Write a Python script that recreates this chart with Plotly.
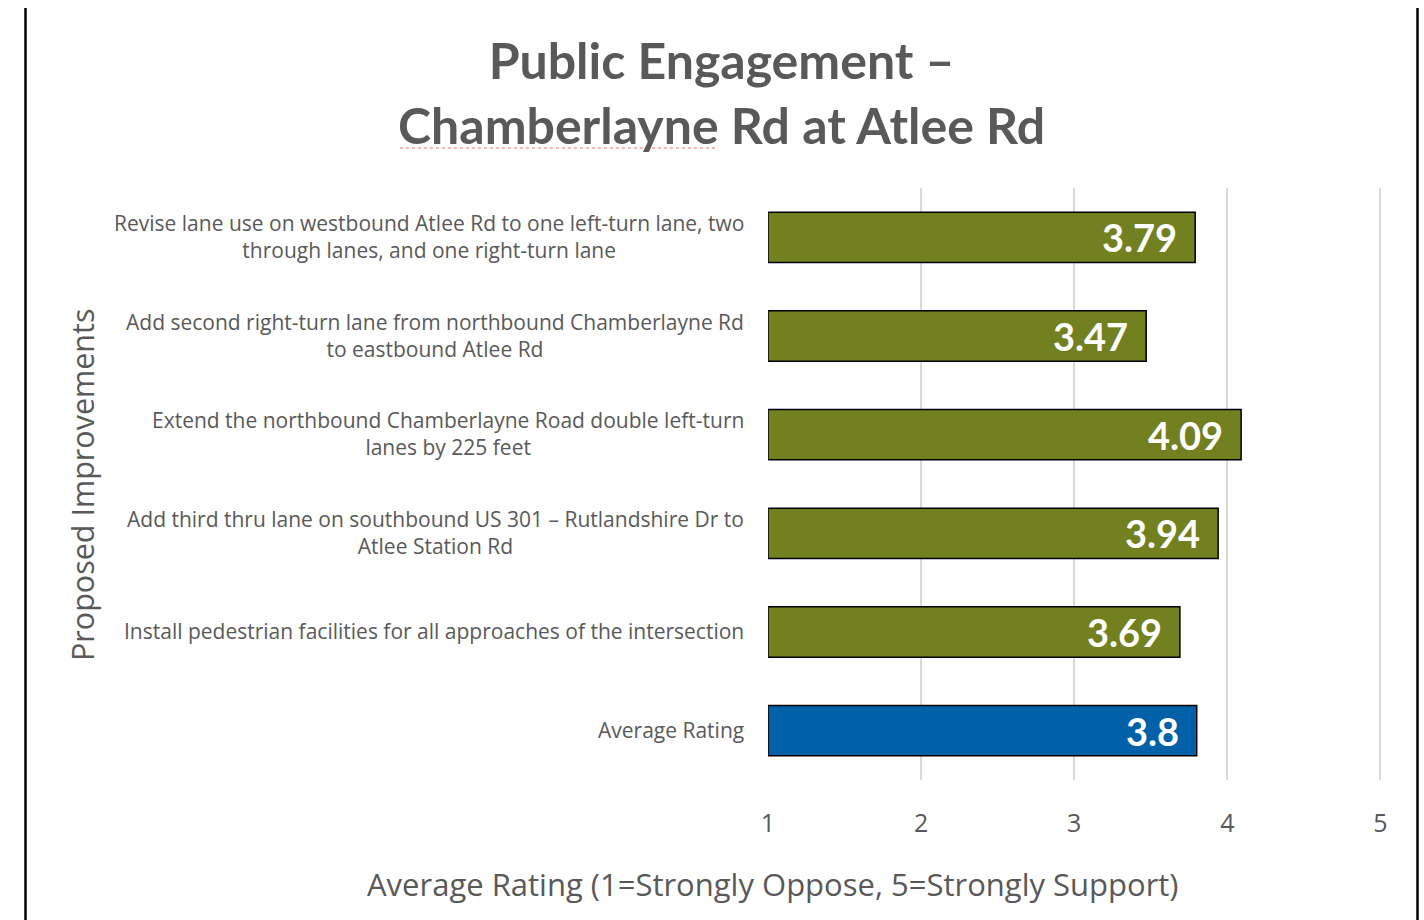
import plotly.graph_objects as go

categories = [
    "Revise lane use on westbound Atlee Rd to one left-turn lane, two<br>through lanes, and one right-turn lane",
    "Add second right-turn lane from northbound Chamberlayne Rd<br>to eastbound Atlee Rd",
    "Extend the northbound Chamberlayne Road double left-turn<br>lanes by 225 feet",
    "Add third thru lane on southbound US 301 \u2013 Rutlandshire Dr to<br>Atlee Station Rd",
    "Install pedestrian facilities for all approaches of the intersection",
    "Average Rating",
]
values = [3.79, 3.47, 4.09, 3.94, 3.69, 3.8]
value_labels = ["3.79", "3.47", "4.09", "3.94", "3.69", "3.8"]
bar_colors = ["#738020", "#738020", "#738020", "#738020", "#738020", "#0060A8"]
x_ticks = [1, 2, 3, 4, 5]

TFONT = "Lato"
FONT = "Open Sans"
GRAY = "#595959"

W, H = 1424, 920
L, R, T, B = 768, 42, 188, 140
pw, ph = W - L - R, H - T - B


def px(xp):
    return (xp - L) / pw


def py(yp):
    return (H - B - yp) / ph


fig = go.Figure()
fig.add_trace(go.Bar(
    x=[v - 1 for v in values],
    base=1,
    y=categories,
    orientation="h",
    marker=dict(color=bar_colors, line=dict(color="black", width=1.5)),
    width=0.51,
    hoverinfo="skip",
))

annotations = []
for c, v, t in zip(categories, values, value_labels):
    annotations.append(dict(
        x=v, y=c, xref="x", yref="y", text=t, showarrow=False,
        xanchor="right", xshift=-16, yshift=0,
        font=dict(family=TFONT, size=38, color="white", weight="bold"),
    ))
    annotations.append(dict(
        x=0, y=c, xref="paper", yref="y", text=c, showarrow=False,
        xanchor="right", xshift=-22, yshift=1, align="center",
        font=dict(family=FONT, size=21, color=GRAY),
    ))

annotations.append(dict(
    x=px(721), y=py(93), xref="paper", yref="paper",
    text="<b>Public Engagement \u2013<br>Chamberlayne Rd at Atlee Rd</b>",
    showarrow=False, xanchor="center", yanchor="middle", align="center",
    font=dict(family=TFONT, size=50, color=GRAY),
))
annotations.append(dict(
    x=px(773), y=py(884), xref="paper", yref="paper",
    text="Average Rating (1=Strongly Oppose, 5=Strongly Support)",
    showarrow=False, xanchor="center", yanchor="middle",
    font=dict(family=FONT, size=31, color=GRAY),
))
annotations.append(dict(
    x=px(82), y=py(485), xref="paper", yref="paper",
    text="Proposed Improvements", textangle=-90,
    showarrow=False, xanchor="center", yanchor="middle",
    font=dict(family=FONT, size=30.5, color=GRAY),
))

shapes = [
    dict(type="line", xref="paper", yref="paper", x0=px(25.5), x1=px(25.5),
         y0=py(8), y1=py(925), line=dict(color="black", width=2.5)),
    dict(type="line", xref="paper", yref="paper", x0=px(1417.5), x1=px(1417.5),
         y0=py(8), y1=py(925), line=dict(color="black", width=2.5)),
    dict(type="line", xref="paper", yref="paper", x0=px(400), x1=px(718),
         y0=py(148), y1=py(148), line=dict(color="#e87070", width=1, dash="dot")),
]

fig.update_layout(
    width=W, height=H,
    margin=dict(l=L, r=R, t=T, b=B, autoexpand=False),
    paper_bgcolor="white", plot_bgcolor="white",
    showlegend=False,
    annotations=annotations,
    shapes=shapes,
    xaxis=dict(range=[1, 5.01], tickvals=x_ticks, showgrid=True, gridcolor="#d9d9d9",
               gridwidth=1.5, zeroline=False, showline=False, ticks="",
               tickfont=dict(family=FONT, size=25, color=GRAY),
               ticklabelstandoff=26, fixedrange=True),
    yaxis=dict(categoryorder="array", categoryarray=categories, autorange="reversed",
               showticklabels=False, showgrid=False, zeroline=False, showline=False,
               ticks="", fixedrange=True),
)

fig.write_html("out.html", config={"displayModeBar": False},
               post_script="document.body.style.margin='0';document.body.style.overflow='hidden';")
